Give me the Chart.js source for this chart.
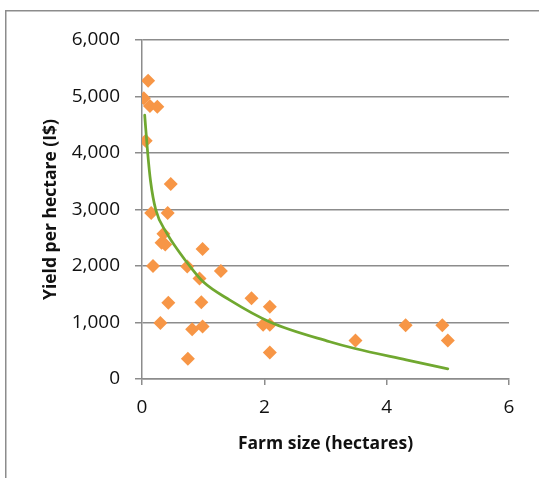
<!DOCTYPE html>
<html>
<head>
<meta charset="utf-8">
<script src="https://cdn.jsdelivr.net/npm/chart.js@4/dist/chart.umd.min.js"></script>
<style>
  html, body { margin: 0; padding: 0; background: #ffffff; }
  #wrap { width: 539px; height: 478px; }
</style>
</head>
<body>
<div id="wrap"><canvas id="c" width="539" height="478"></canvas></div>
<script>
// Farm size (hectares) and yield per hectare (I$) for each surveyed farm
const farmSize = [0.10, 0.03, 0.13, 0.25, 0.06, 0.47, 0.15, 0.42, 0.35, 0.32, 0.38,
                  0.99, 0.18, 0.74, 1.29, 0.94, 0.43, 0.97, 1.79, 2.09, 0.30, 0.82,
                  0.99, 1.98, 2.09, 0.75, 2.09, 3.49, 4.31, 4.91, 5.00];
const yieldPerHa = [5280, 4970, 4830, 4820, 4215, 3450, 2940, 2940, 2570, 2410, 2380,
                    2300, 2000, 1990, 1910, 1780, 1350, 1360, 1430, 1280, 990, 880,
                    930, 960, 960, 360, 470, 680, 950, 950, 680];

// Fitted trend curve, sampled along its length
const trendSize  = [0.044, 0.093, 0.14, 0.224, 0.40, 0.62, 0.78, 1.00, 1.43, 2.09, 3.07, 3.48, 4.32, 5.00];
const trendYield = [4670, 4000, 3500, 3000, 2590, 2230, 2000, 1720, 1400, 1010, 660, 540, 340, 180];

// Axis tick labels
const xTickLabels = ['0', '2', '4', '6'];
const yTickLabels = ['0', '1,000', '2,000', '3,000', '4,000', '5,000', '6,000'];

const farmPoints = farmSize.map((x, i) => ({ x: x, y: yieldPerHa[i] }));
const trendPoints = trendSize.map((x, i) => ({ x: x, y: trendYield[i] }));

const FONT = "'Open Sans', 'Liberation Sans', sans-serif";
const GRID = '#8c8c8c';

// White background and the thin grey frame around the chart
const framePlugin = {
  id: 'frame',
  beforeDraw(chart) {
    const ctx = chart.ctx;
    ctx.save();
    ctx.fillStyle = '#ffffff';
    ctx.fillRect(0, 0, chart.width, chart.height);
    ctx.strokeStyle = GRID;
    ctx.lineWidth = 1.5;
    ctx.beginPath();
    ctx.moveTo(5.75, chart.height + 2);
    ctx.lineTo(5.75, 10.75);
    ctx.lineTo(chart.width + 2, 10.75);
    ctx.stroke();
    ctx.restore();
  }
};

new Chart(document.getElementById('c'), {
  type: 'scatter',
  data: {
    datasets: [
      {
        label: 'Trend',
        data: trendPoints,
        showLine: true,
        fill: false,
        borderColor: '#70a830',
        borderWidth: 2.75,
        borderCapStyle: 'round',
        cubicInterpolationMode: 'monotone',
        pointRadius: 0,
        pointHoverRadius: 0,
        order: 0
      },
      {
        label: 'Farms',
        data: farmPoints,
        pointStyle: 'rectRot',
        pointRadius: 7,
        pointHoverRadius: 7,
        backgroundColor: '#f79646',
        borderWidth: 0,
        order: 1
      }
    ]
  },
  options: {
    responsive: false,
    animation: false,
    devicePixelRatio: 1,
    events: [],
    layout: { padding: { top: 40, right: 30, left: 0, bottom: 0 } },
    plugins: {
      legend: { display: false },
      tooltip: { enabled: false }
    },
    scales: {
      x: {
        type: 'linear',
        min: 0,
        max: 6,
        afterFit(scale) { scale.height = 99; },
        ticks: {
          stepSize: 2,
          padding: 11,
          color: '#111111',
          font: { family: FONT, size: 19 },
          callback: (v, i) => xTickLabels[i]
        },
        grid: {
          drawOnChartArea: false,
          drawTicks: true,
          tickLength: 6,
          color: GRID,
          lineWidth: 1.5
        },
        border: { display: true, color: GRID, width: 1.5 },
        title: {
          display: true,
          text: 'Farm size (hectares)',
          color: '#111111',
          font: { family: FONT, size: 17.5, weight: 'bold' },
          padding: { top: 4, bottom: 23.5 }
        }
      },
      y: {
        type: 'linear',
        min: 0,
        max: 6000,
        afterFit(scale) { scale.width = 142; },
        ticks: {
          stepSize: 1000,
          padding: 15,
          color: '#111111',
          font: { family: FONT, size: 19 },
          callback: (v, i) => yTickLabels[i]
        },
        grid: {
          drawTicks: true,
          tickLength: 7,
          color: GRID,
          lineWidth: 1.5
        },
        border: { display: true, color: GRID, width: 1.5 },
        title: {
          display: true,
          text: 'Yield per hectare (I$)',
          color: '#111111',
          font: { family: FONT, size: 17.5, weight: 'bold' },
          padding: { top: 40.5, bottom: 4 }
        }
      }
    }
  },
  plugins: [framePlugin]
});
</script>
</body>
</html>
